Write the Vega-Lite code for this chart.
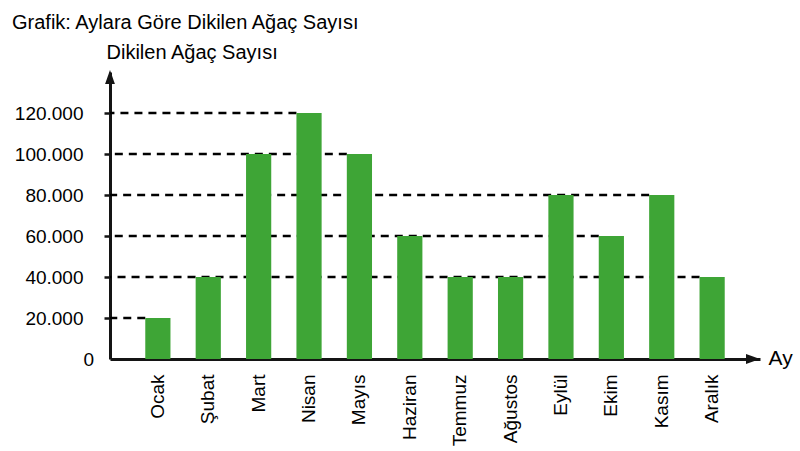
{
  "$schema": "https://vega.github.io/schema/vega-lite/v6.json",
  "autosize": {"type": "none"},
  "width": 650,
  "height": 287,
  "padding": {"left": 110, "top": 72, "right": 40, "bottom": 92},
  "config": {
    "view": {"stroke": null},
    "font": "Liberation Sans",
    "axis": {"grid": false}
  },
  "title": {
    "text": "Grafik: Aylara Göre Dikilen Ağaç Sayısı",
    "anchor": "start",
    "frame": "group",
    "dx": -98,
    "dy": -5,
    "fontSize": 20,
    "fontWeight": "normal",
    "font": "Liberation Sans",
    "color": "#000"
  },
  "datasets": {
    "trees": [
      {"month": "Ocak", "value": 20000},
      {"month": "Şubat", "value": 40000},
      {"month": "Mart", "value": 100000},
      {"month": "Nisan", "value": 120000},
      {"month": "Mayıs", "value": 100000},
      {"month": "Haziran", "value": 60000},
      {"month": "Temmuz", "value": 40000},
      {"month": "Ağustos", "value": 40000},
      {"month": "Eylül", "value": 80000},
      {"month": "Ekim", "value": 60000},
      {"month": "Kasım", "value": 80000},
      {"month": "Aralık", "value": 40000}
    ],
    "guides": [
      {"month": "Ocak", "value": 20000},
      {"month": "Aralık", "value": 40000},
      {"month": "Ekim", "value": 60000},
      {"month": "Kasım", "value": 80000},
      {"month": "Mayıs", "value": 100000},
      {"month": "Nisan", "value": 120000}
    ],
    "one": [{"k": 1, "lo": 0, "top": 140000}]
  },
  "layer": [
    {
      "data": {"name": "guides"},
      "mark": {"type": "rule", "strokeDash": [8, 6], "strokeWidth": 2.3, "color": "black"},
      "encoding": {
        "x": {"field": "month", "type": "nominal", "bandPosition": 0,
          "scale": {
            "domain": ["Ocak", "Şubat", "Mart", "Nisan", "Mayıs", "Haziran", "Temmuz", "Ağustos", "Eylül", "Ekim", "Kasım", "Aralık"],
            "paddingInner": 0.5,
            "paddingOuter": 0.7
          },
          "axis": {
            "domain": true,
            "domainWidth": 3,
            "domainColor": "#141414",
            "ticks": false,
            "labelAngle": -90,
            "labelPadding": 15,
            "labelFontSize": 19,
            "labelColor": "black",
            "labelFont": "Liberation Sans",
            "title": "Ay",
            "titleAngle": 0,
            "titleAlign": "left",
            "titleBaseline": "middle",
            "titleX": 658,
            "titleY": -1,
            "titleFontSize": 21,
            "titleFontWeight": "normal",
            "titleColor": "black",
            "titleFont": "Liberation Sans"
          }
        },
        "x2": {"value": 0},
        "y": {"field": "value", "type": "quantitative",
          "scale": {"domain": [0, 140000], "nice": false},
          "axis": {
            "values": [0, 20000, 40000, 60000, 80000, 100000, 120000],
            "labelExpr": "replace(format(datum.value, ','), ',', '.')",
            "labelAlign": {"condition": {"test": "datum.value == 0", "value": "left"}, "value": "right"},
            "domain": true,
            "domainWidth": 3,
            "domainColor": "#141414",
            "ticks": true,
            "tickSize": 6,
            "tickWidth": 2.5,
            "tickColor": "#141414",
            "tickOpacity": {"condition": {"test": "datum.value == 0", "value": 0}, "value": 1},
            "labelPadding": 21,
            "labelFontSize": 19,
            "labelColor": "black",
            "labelFont": "Liberation Sans",
            "title": "Dikilen Ağaç Sayısı",
            "titleAngle": 0,
            "titleAlign": "left",
            "titleBaseline": "middle",
            "titleX": -4,
            "titleY": -20,
            "titleFontSize": 20,
            "titleFontWeight": "normal",
            "titleColor": "black",
            "titleFont": "Liberation Sans"
          }
        }
      }
    },
    {
      "data": {"name": "trees"},
      "mark": {"type": "bar", "color": "#3ea536"},
      "encoding": {
        "x": {"field": "month", "type": "nominal"},
        "y": {"field": "value", "type": "quantitative"}
      }
    },
    {
      "data": {"name": "one"},
      "mark": {"type": "point", "filled": true, "opacity": 1, "color": "#141414", "shape": "M0,-1L0.7,1L-0.7,1Z", "size": 196, "yOffset": 5},
      "encoding": {
        "x": {"value": 0},
        "y": {"field": "top", "type": "quantitative"}
      }
    },
    {
      "data": {"name": "one"},
      "mark": {"type": "point", "filled": true, "opacity": 1, "color": "#141414", "shape": "M1,0L-1,-0.7L-1,0.7Z", "size": 196, "xOffset": -7},
      "encoding": {
        "x": {"value": {"expr": "width"}},
        "y": {"field": "lo", "type": "quantitative"}
      }
    }
  ]
}
